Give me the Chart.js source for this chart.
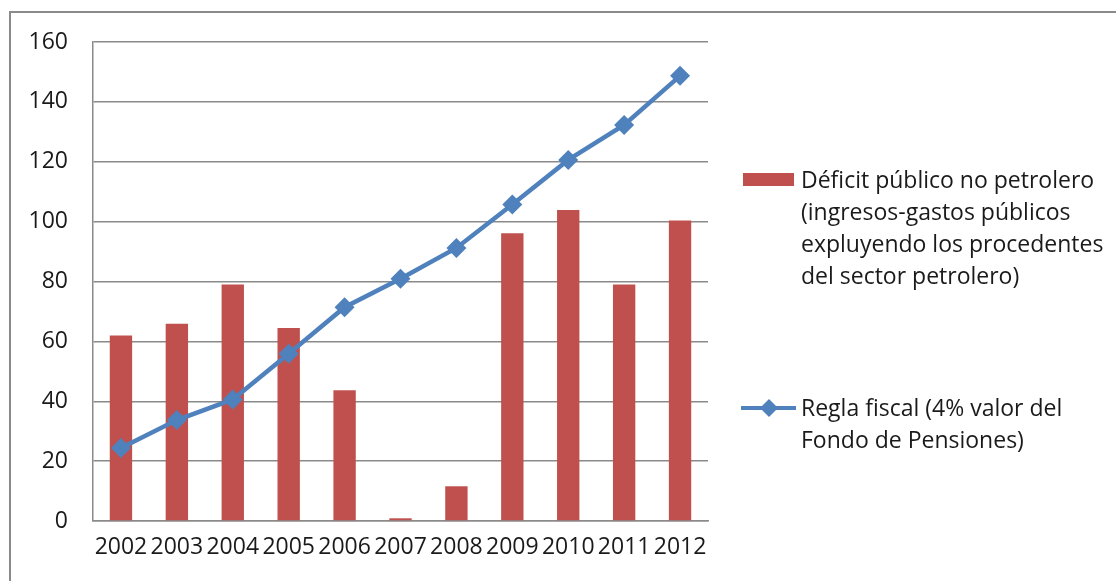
<!DOCTYPE html>
<html>
<head>
<meta charset="utf-8">
<script src="https://cdn.jsdelivr.net/npm/chart.js@4/dist/chart.umd.min.js"></script>
<style>
  html, body { margin: 0; padding: 0; background: #fff; }
  #wrap { position: relative; width: 1116px; height: 581px; }
</style>
</head>
<body>
<div id="wrap"><canvas id="c" width="1116" height="581"></canvas></div>
<script>
const categories = ['2002','2003','2004','2005','2006','2007','2008','2009','2010','2011','2012'];
const deficitValues = [62.0, 65.9, 79.0, 64.5, 43.7, 0.9, 11.6, 96.1, 103.9, 79.0, 100.4];
const reglaValues = [24.4, 33.7, 40.6, 55.9, 71.4, 80.9, 91.2, 105.7, 120.6, 132.3, 148.7];
const yTicks = [0, 20, 40, 60, 80, 100, 120, 140, 160];
const deficitLabel = ['Déficit público no petrolero', '(ingresos-gastos públicos', 'expluyendo los procedentes', 'del sector petrolero)'];
const reglaLabel = ['Regla fiscal (4% valor del', 'Fondo de Pensiones)'];

const RED = '#C0504D';
const BLUE = '#4F81BD';
const FONT = '"Open Sans", sans-serif';

const framePlugin = {
  id: 'frame',
  beforeDraw(chart) {
    const ctx = chart.ctx;
    ctx.save();
    ctx.fillStyle = '#fff';
    ctx.fillRect(0, 0, chart.width, chart.height);
    ctx.strokeStyle = '#8a8a8a';
    ctx.lineWidth = 2;
    ctx.beginPath();
    ctx.moveTo(10, chart.height + 5);
    ctx.lineTo(10, 12);
    ctx.lineTo(chart.width + 5, 12);
    ctx.stroke();
    ctx.restore();
  }
};

const legendPlugin = {
  id: 'customLegend',
  afterDraw(chart) {
    const ctx = chart.ctx;
    ctx.save();
    ctx.font = '23px ' + FONT;
    ctx.fillStyle = '#1a1a1a';
    ctx.textBaseline = 'middle';
    ctx.textAlign = 'left';
    const tx = 801, lh = 32.3;
    ctx.fillStyle = RED;
    ctx.fillRect(743, 173, 51, 13);
    ctx.fillStyle = '#1a1a1a';
    deficitLabel.forEach((t, i) => ctx.fillText(t, tx, 181 + i * lh));
    ctx.strokeStyle = BLUE;
    ctx.lineWidth = 4;
    ctx.beginPath();
    ctx.moveTo(741, 408);
    ctx.lineTo(796, 408);
    ctx.stroke();
    ctx.fillStyle = BLUE;
    ctx.beginPath();
    const cx = 769, cy = 408, r = 9;
    ctx.moveTo(cx, cy - r); ctx.lineTo(cx + r, cy); ctx.lineTo(cx, cy + r); ctx.lineTo(cx - r, cy); ctx.closePath();
    ctx.fill();
    ctx.fillStyle = '#1a1a1a';
    reglaLabel.forEach((t, i) => ctx.fillText(t, tx, 409 + i * lh));
    ctx.restore();
  }
};

new Chart(document.getElementById('c'), {
  type: 'bar',
  data: {
    labels: categories,
    datasets: [
      {
        type: 'line',
        label: reglaLabel.join(' '),
        data: reglaValues,
        borderColor: BLUE,
        backgroundColor: BLUE,
        borderWidth: 4.5,
        pointStyle: 'rectRot',
        pointRadius: 10,
        pointHoverRadius: 10,
        pointBackgroundColor: BLUE,
        pointBorderColor: BLUE,
        pointBorderWidth: 0,
        tension: 0,
        order: 0
      },
      {
        type: 'bar',
        label: deficitLabel.join(' '),
        data: deficitValues,
        backgroundColor: RED,
        borderWidth: 0,
        categoryPercentage: 1.0,
        barPercentage: 0.4,
        order: 1
      }
    ]
  },
  options: {
    responsive: false,
    animation: false,
    events: [],
    layout: { padding: { left: 0, right: 408, top: 42, bottom: 0 } },
    plugins: { legend: { display: false }, tooltip: { enabled: false } },
    scales: {
      x: {
        grid: { display: false, drawTicks: false },
        border: { display: true, color: '#8a8a8a', width: 1.5 },
        ticks: {
          autoSkip: false, maxRotation: 0, minRotation: 0,
          padding: 13,
          color: '#1a1a1a',
          font: { family: FONT, size: 23 }
        },
        afterFit(scale) { scale.height = 60; }
      },
      y: {
        min: 0, max: 160,
        afterBuildTicks(scale) { scale.ticks = yTicks.map(v => ({ value: v })); },
        grid: { color: '#8a8a8a', lineWidth: 1.5, drawTicks: false },
        border: { display: true, color: '#8a8a8a', width: 1.5 },
        ticks: {
          padding: 25,
          color: '#1a1a1a',
          font: { family: FONT, size: 23 }
        },
        afterFit(scale) { scale.width = 93; }
      }
    }
  },
  plugins: [framePlugin, legendPlugin]
});
</script>
</body>
</html>
